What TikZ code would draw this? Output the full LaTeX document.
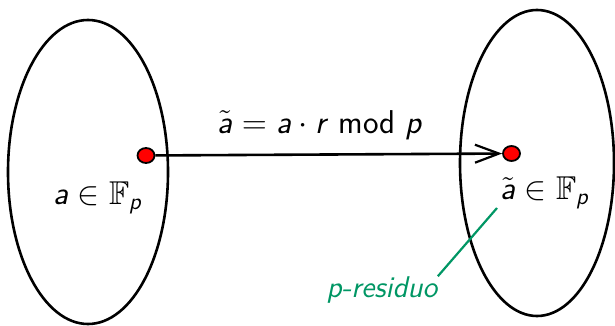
\documentclass[tikz,border=0pt]{standalone}
\usepackage{fix-cm}
\usepackage{amsmath,amssymb}
\usetikzlibrary{arrows.meta,shapes.geometric}
\definecolor{resgreen}{RGB}{0,150,100}
\newcommand\sva{\textsf{\textit{a}}}
\newcommand\svr{\textsf{\textit{r}}}
\newcommand\svp{\textsf{\textit{p}}}
\tikzset{
  elemdot/.style={draw=black,fill=red,line width=0.9pt,ellipse,inner sep=0pt,minimum width=8.5pt,minimum height=7.5pt},
  lbl/.style={font=\fontsize{16.5}{19}\selectfont,inner sep=0pt},
}
\begin{document}
\begin{tikzpicture}[x=0.5pt,y=-0.5pt]
\useasboundingbox (0,0) rectangle (615,326);
\draw[line width=1.3pt] (88,172) ellipse [x radius=80, y radius=152];
\draw[line width=1.3pt] (537,163) ellipse [x radius=77, y radius=153];
\node[elemdot] (a) at (146,155.5) {};
\node[elemdot] (b) at (511.5,153.5) {};
\draw[line width=1.3pt,-{Straight Barb[length=12pt,width=9pt,line width=1.1pt]}] (a) -- (b);
\node[lbl] (map) at (320,125) {$\tilde{\sva} = \sva\cdot\svr\ \textsf{mod}\ \svp$};
\node[lbl] (la) at (98,198) {$\sva\in\mathbb{F}_{\svp}$};
\node[lbl] (lb) at (545,193) {$\tilde{\sva}\in\mathbb{F}_{\svp}$};
\node[lbl,text=resgreen,font=\fontsize{15}{18}\selectfont\sffamily\itshape] (res) at (382,290) {p-residuo};
\coordinate (gtop) at (497,208);
\draw[resgreen,line width=1.1pt] (gtop) -- (res.north east);
\end{tikzpicture}
\end{document}
